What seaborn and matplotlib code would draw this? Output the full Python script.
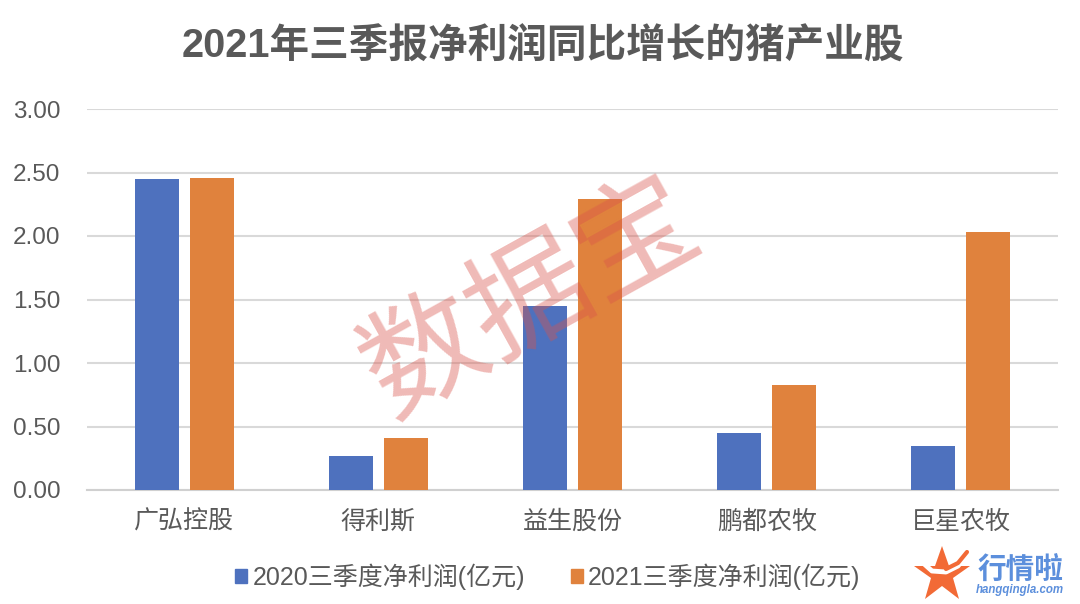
import pandas as pd
import seaborn as sns
from matplotlib import pyplot as plt
from matplotlib.lines import Line2D
from matplotlib.patches import Patch

companies = ['广弘控股', '得利斯', '益生股份', '鹏都农牧', '巨星农牧']
profit_2020 = [2.45, 0.27, 1.45, 0.45, 0.35]
profit_2021 = [2.46, 0.41, 2.29, 0.83, 2.03]
series_names = ['2020三季度净利润(亿元)', '2021三季度净利润(亿元)']
y_ticks = [0, 0.5, 1, 1.5, 2, 2.5, 3]
colors = ['#4e71be', '#e0823d']
text_color = '#595959'

sns.set_style('white')
plt.rcParams['font.family'] = ['Liberation Sans', 'Noto Sans CJK SC', 'DejaVu Sans']

df = pd.DataFrame({
    'company': companies * 2,
    'profit': profit_2020 + profit_2021,
    'series': [series_names[0]] * 5 + [series_names[1]] * 5,
})

fig = plt.figure(figsize=(10.8, 6.04), dpi=100)
ax = fig.add_axes([87 / 1080, 1 - 490 / 604, 971 / 1080, 381 / 604])

sns.barplot(data=df, x='company', y='profit', hue='series', palette=colors,
            width=0.567, gap=0.2, saturation=1, legend=False, zorder=3, linewidth=0, ax=ax)

ax.set_xlim(-0.5, 4.5)
ax.set_ylim(0, 3)
ax.set_xlabel('')
ax.set_ylabel('')
ax.set_yticks(y_ticks)
ax.set_yticklabels([f'{v:.2f}' for v in y_ticks])
ax.tick_params(axis='x', length=0, labelsize=18, labelcolor=text_color, pad=14)
ax.tick_params(axis='y', length=0, labelsize=17.5, labelcolor=text_color, pad=19)
ax.grid(axis='y', color='#d9d9d9', linewidth=1.5, zorder=0)
sns.despine(ax=ax, left=True, right=True, top=True, bottom=False)
ax.spines['bottom'].set_color('#d0d0d0')
ax.spines['bottom'].set_linewidth(1.5)

fig.text(543 / 1080, 1 - 47 / 604, '2021年三季报净利润同比增长的猪产业股', fontsize=28.5,
         fontweight='bold', color=text_color, ha='center', va='center')

handles = [Patch(color=c, label=n) for c, n in zip(colors, series_names)]
fig.legend(handles=handles, loc='center', bbox_to_anchor=(548 / 1080, 1 - 577 / 604),
           ncol=2, frameon=False, fontsize=18, labelcolor=text_color, handlelength=0.48,
           handleheight=0.48, handletextpad=0.2, columnspacing=1.85, borderpad=0)

# watermark
fig.text(533 / 1080, 1 - 302 / 604, '数据宝', fontsize=87, color='#d9534a', alpha=0.4,
         rotation=29, ha='center', va='center', fontweight='medium', zorder=10)

# logo
fig.add_artist(Line2D([942 / 1080], [1 - 575 / 604], marker='*', markersize=42, color='#f26a36',
                      markeredgewidth=0, transform=fig.transFigure))
horn_x = [922, 932, 946, 958, 967]
horn_y = [562, 571, 572, 566, 555]
fig.add_artist(Line2D([x / 1080 for x in horn_x], [1 - y / 604 for y in horn_y], color='white',
                      linewidth=3.5, transform=fig.transFigure))
fig.add_artist(Line2D([x / 1080 for x in horn_x[2:]], [1 - (y - 3) / 604 for y in horn_y[2:]],
                      color='#f26a36', linewidth=3, transform=fig.transFigure))
fig.text(1020 / 1080, 1 - 570 / 604, '行情啦', fontsize=20.6, fontweight='bold', color='#5c8fdc',
         ha='center', va='center')
fig.text(1020 / 1080, 1 - 590 / 604, 'hangqingla.com', fontsize=8.3, color='#5c8fdc',
         fontstyle='italic', fontweight='bold', ha='center', va='center')

fig.savefig('out.png', dpi=100)
